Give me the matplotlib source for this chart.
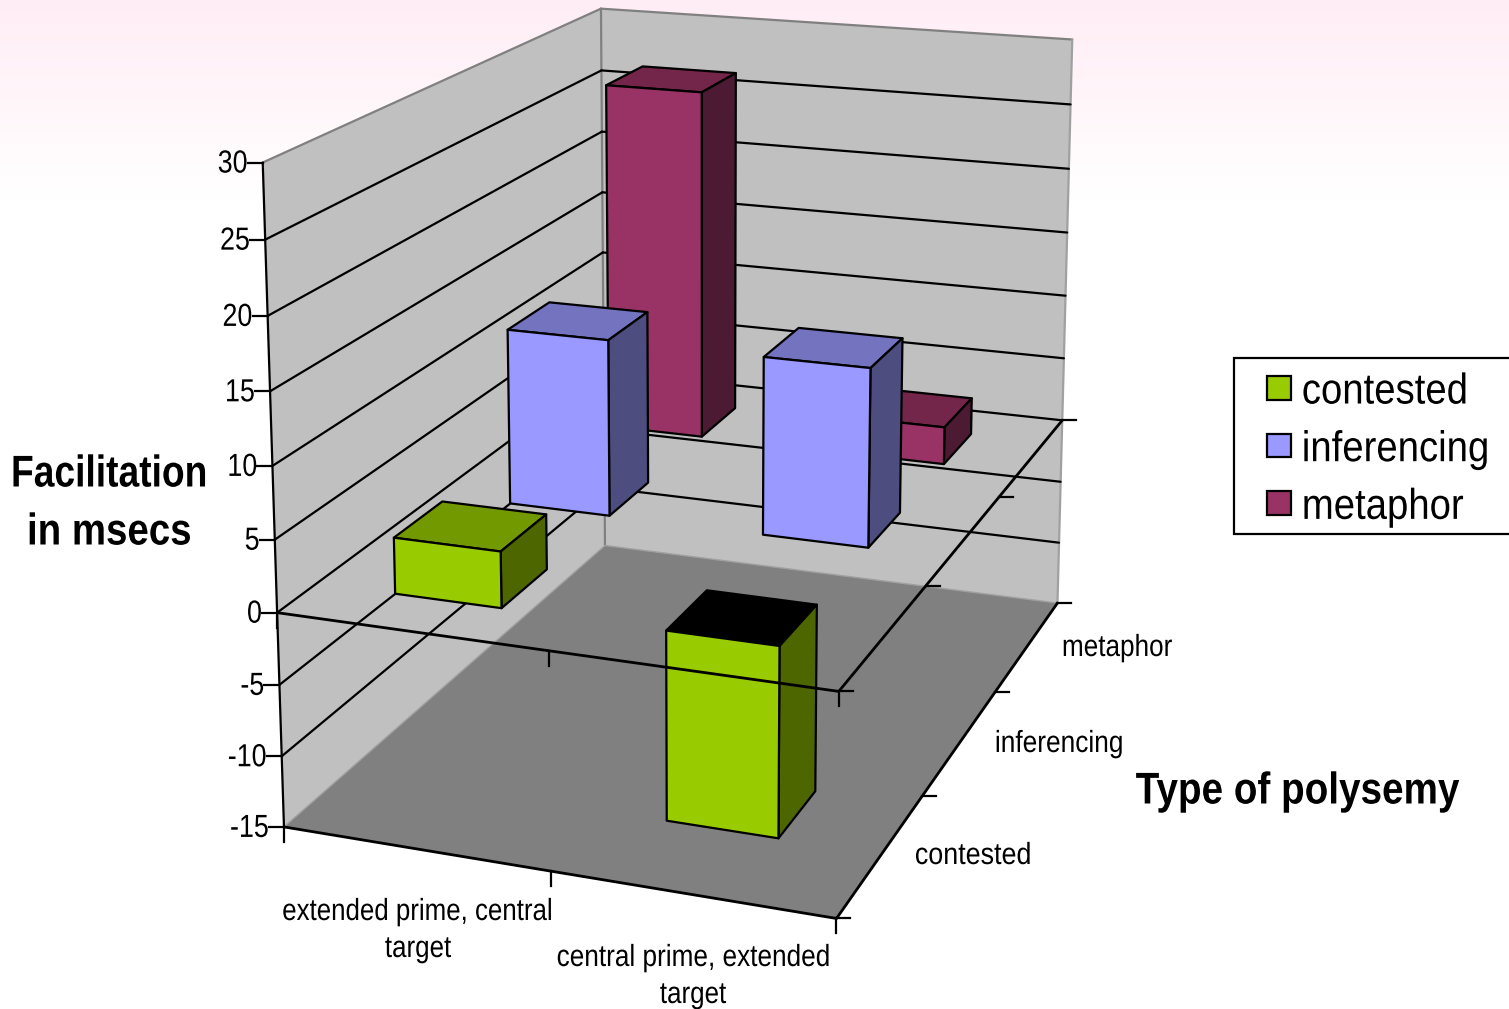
import numpy as np
import matplotlib
matplotlib.use("Agg")
import matplotlib.pyplot as plt
from matplotlib.legend_handler import HandlerPatch
from matplotlib.patches import Polygon, Patch, Rectangle
from matplotlib.colors import LinearSegmentedColormap
from matplotlib.patheffects import AbstractPathEffect
from matplotlib.transforms import Affine2D

# Chart data
categories = ["extended prime, central\ntarget", "central prime, extended\ntarget"]
series_names = ["contested", "inferencing", "metaphor"]
contested = [3.9, -13.1]
inferencing = [12.9, 12.85]
metaphor = [26.8, 2.85]
value_ticks = [30, 25, 20, 15, 10, 5, 0, -5, -10, -15]

front_colors = ["#99CC00", "#9999FF", "#993366"]
side_colors = ["#4D6600", "#4D4D80", "#4D1A33"]
top_colors = ["#739900", "#7373BF", "#732649"]

W, H = 1509, 1009
VMIN, VMAX = -15, 30
BAR = 0.4  # bar width and depth as a share of a category cell

# Camera calibration: (category, series, value) -> figure pixel
calib_3d = np.array([
    (0, 0, -15), (2, 0, -15), (2, 3, -15), (0, 3, -15),
    (0, 0, 30), (0, 3, 30), (2, 3, 30),
    (0, 0, 0), (2, 0, 0), (2, 3, 0),
], dtype=float)
calib_px = np.array([
    (285, 827), (836, 918), (1058, 602), (604, 546),
    (263, 161), (601, 9), (1072, 40),
    (277, 613), (838, 693), (1063, 420),
], dtype=float)


def solve_camera(world, pixel):
    rows = []
    for (x, y, z), (u, v) in zip(world, pixel):
        u, v = u / 1000, v / 1000
        z = z / 30
        rows.append([x, y, z, 1, 0, 0, 0, 0, -u * x, -u * y, -u * z, -u])
        rows.append([0, 0, 0, 0, x, y, z, 1, -v * x, -v * y, -v * z, -v])
    return np.linalg.svd(np.array(rows))[2][-1].reshape(3, 4)


CAM = solve_camera(calib_3d, calib_px)


def proj(x, y, z):
    p = CAM @ np.array([x, y, z / 30, 1.0])
    return p[0] / p[2] * 1000, p[1] / p[2] * 1000


class Squeeze(AbstractPathEffect):
    """Narrow the glyph run horizontally about its left, centre or right edge."""

    def __init__(self, factor, anchor="center", drop=0):
        super().__init__()
        self.factor, self.anchor, self.drop = factor, anchor, drop

    def draw_path(self, renderer, gc, tpath, affine, rgbFace=None):
        x0, x1 = tpath.vertices[:, 0].min(), tpath.vertices[:, 0].max()
        c = {"left": x0, "center": (x0 + x1) / 2, "right": x1}[self.anchor]
        squeeze = Affine2D().translate(-c, 0).scale(self.factor, 1).translate(c, 0)
        shift = Affine2D().translate(0, -self.drop)
        renderer.draw_path(gc, tpath, squeeze + affine + shift, rgbFace)


plt.rcParams["font.family"] = ["Liberation Sans", "DejaVu Sans"]
fig = plt.figure(figsize=(W / 100, H / 100), dpi=100)
ax = fig.add_axes([0, 0, 1, 1])

# Pale pink wash fading out towards the top of the plot
wash = LinearSegmentedColormap.from_list("wash", ["#FFEDF5", "#FFFFFF"])
ax.imshow(np.linspace(0, 1, 256)[:, None], cmap=wash, aspect="auto",
          extent=(0, W, 200, 0), zorder=0)
ax.set_xlim(0, W)
ax.set_ylim(H, 0)
ax.axis("off")

LW = 1.6


def face(points, color, z, edge="none"):
    ax.add_patch(Polygon([proj(*p) for p in points], closed=True, facecolor=color,
                         edgecolor=edge, lw=LW, zorder=z, joinstyle="round"))


def line(a, b, z=3, color="black", lw=LW):
    pa, pb = proj(*a), proj(*b)
    ax.plot([pa[0], pb[0]], [pa[1], pb[1]], color=color, lw=lw, zorder=z,
            solid_capstyle="round")


# Walls and floor
nx, ny = len(categories), len(series_names)
face([(0, 0, VMIN), (0, ny, VMIN), (0, ny, VMAX), (0, 0, VMAX)], "#C0C0C0", 1)
face([(0, ny, VMIN), (nx, ny, VMIN), (nx, ny, VMAX), (0, ny, VMAX)], "#C0C0C0", 1)
face([(0, 0, VMIN), (nx, 0, VMIN), (nx, ny, VMIN), (0, ny, VMIN)], "#808080", 2)
line((0, 0, VMAX), (0, ny, VMAX), color="#808080")
line((0, ny, VMAX), (nx, ny, VMAX), color="#808080")
line((nx, ny, VMAX), (nx, ny, VMIN), color="#A0A0A0")
line((0, ny, VMAX), (0, ny, VMIN), color="#808080")
line((0, ny, VMIN), (nx, ny, VMIN), color="#A0A0A0", lw=1.0)
line((0, ny, VMIN), (0, 0, VMIN), color="#A0A0A0", lw=1.0)

# Gridlines on both walls, with ticks on the value axis
for v in value_ticks[1:-1]:
    line((0, 0, v), (0, ny, v))
    line((0, ny, v), (nx, ny, v))
for v in value_ticks:
    px, py = proj(0, 0, v)
    ax.plot([px - 15, px], [py, py], color="black", lw=LW, zorder=3)
    ax.text(px - 15, py + 2, str(v), ha="right", va="center", fontsize=23,
            path_effects=[Squeeze(0.84, "right")], zorder=6)
line((0, 0, VMIN), (0, 0, VMAX))


def tick_marks(level):
    # Category ticks drop down from the front edge, series ticks point right
    for i in range(nx + 1):
        px, py = proj(i, 0, level)
        ax.plot([px, px], [py, py + 15], color="black", lw=LW, zorder=8)
    for j in range(ny + 1):
        px, py = proj(nx, j, level)
        ax.plot([px, px + 14], [py, py], color="black", lw=LW, zorder=8)


tick_marks(VMIN)
line((0, 0, VMIN), (nx, 0, VMIN), z=3, lw=2.0)
line((nx, 0, VMIN), (nx, ny, VMIN), z=3, lw=2.0)

# Bars, painted from the back row to the front
table = [contested, inferencing, metaphor]
for j in reversed(range(ny)):
    for i in range(nx):
        v = table[j][i]
        x0, x1 = i + 0.5 - BAR / 2, i + 0.5 + BAR / 2
        y0, y1 = j + 0.5 - BAR / 2, j + 0.5 + BAR / 2
        lo, hi = min(v, 0), max(v, 0)
        z = 4 + (ny - j) * 0.1
        top = "black" if v < 0 else top_colors[j]
        face([(x0, y0, hi), (x1, y0, hi), (x1, y1, hi), (x0, y1, hi)], top, z, "black")
        face([(x1, y0, lo), (x1, y1, lo), (x1, y1, hi), (x1, y0, hi)], side_colors[j], z, "black")
        face([(x0, y0, lo), (x1, y0, lo), (x1, y0, hi), (x0, y0, hi)], front_colors[j], z, "black")

# The zero plane's outline crosses everything in front of the walls
line((0, 0, 0), (nx, 0, 0), z=7, lw=2.0)
line((nx, 0, 0), (nx, ny, 0), z=7, lw=2.0)
tick_marks(0)

# Axis text
tick_size = 22
for (cx, cy), s, k in zip([(417, 912), (418, 949), (693, 958), (693, 995)],
                          ["extended prime, central", "target",
                           "central prime, extended", "target"],
                          [0.847, 0.85, 0.857, 0.85]):
    ax.text(cx, cy, s, ha="center", va="center", fontsize=tick_size,
            path_effects=[Squeeze(k)], zorder=9)
for (cx, cy), s, k in zip([(1117, 648), (1059, 744), (973, 856)],
                          ["metaphor", "inferencing", "contested"],
                          [0.855, 0.86, 0.88]):
    ax.text(cx, cy, s, ha="center", va="center", fontsize=tick_size,
            path_effects=[Squeeze(k)], zorder=9)

ax.text(11, 475, "Facilitation", ha="left", va="center", fontsize=32,
        fontweight="bold", path_effects=[Squeeze(0.837, "left")], zorder=9)
ax.text(27, 533, "in msecs", ha="left", va="center", fontsize=32,
        fontweight="bold", path_effects=[Squeeze(0.865, "left")], zorder=9)
ax.text(1298, 792, "Type of polysemy", ha="center", va="center", fontsize=32,
        fontweight="bold", path_effects=[Squeeze(0.87)], zorder=9)


def swatch(legend, orig_handle, xdescent, ydescent, width, height, fontsize):
    # Square key pushed to the right end of the handle box
    return Rectangle((width - height, 0), height, height)


# Legend
handles = [Patch(facecolor=c, edgecolor="black", lw=LW, label=n)
           for c, n in zip(front_colors, series_names)]
leg = ax.legend(handles=handles, loc="upper left", prop={"size": 31},
                bbox_to_anchor=(1234 / W, 1 - 358 / H), borderaxespad=0,
                handlelength=1.07, handleheight=0.46, handletextpad=0.26,
                borderpad=0.245, labelspacing=0.41, fancybox=False,
                framealpha=1, edgecolor="black",
                handler_map={Patch: HandlerPatch(patch_func=swatch)})
leg.get_frame().set_linewidth(LW)
leg.set_zorder(9)
for t in leg.get_texts():
    t.set_path_effects([Squeeze(0.89, "left", drop=4)])

fig.savefig("out.png", dpi=100)
